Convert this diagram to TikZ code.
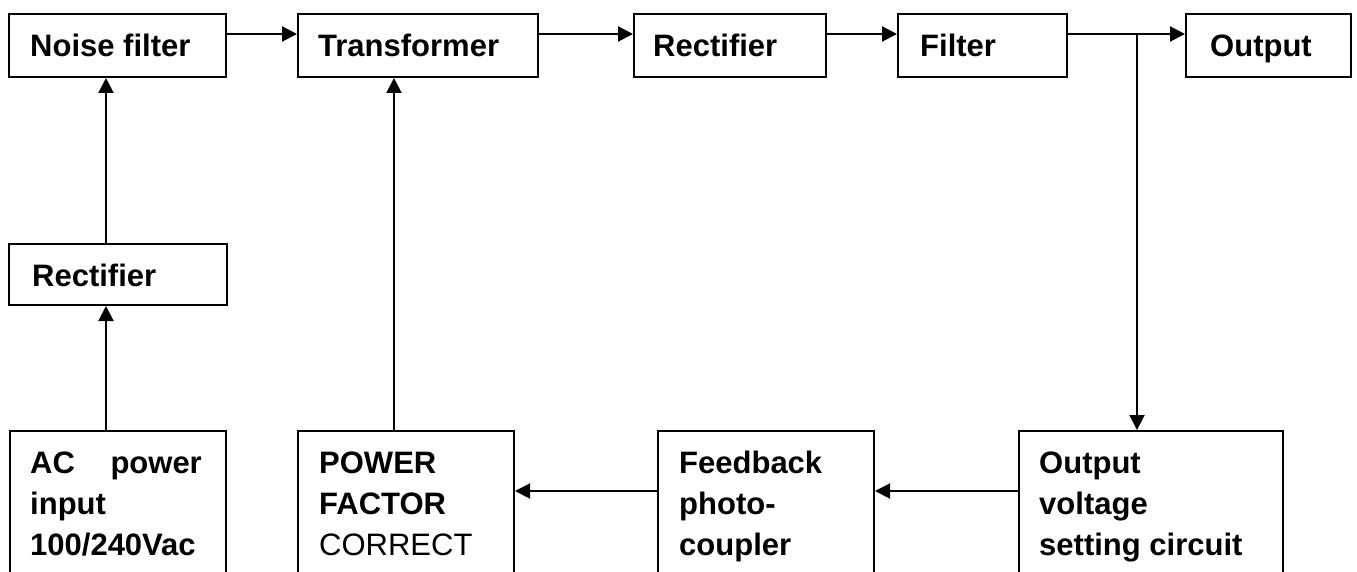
\documentclass[tikz,border=0pt]{standalone}
\usepackage{fontspec}
\setmainfont{Liberation Sans}
\usetikzlibrary{arrows.meta}
\begin{document}
\begin{tikzpicture}[x=1pt,y=-1pt,
  box/.style={draw, line width=2pt, anchor=north west, inner sep=0pt},
  txt/.style={anchor=base west, inner sep=0pt, font=\fontsize{31}{41}\selectfont\bfseries},
  txtr/.style={anchor=base west, inner sep=0pt, font=\fontsize{31}{41}\selectfont},
  conn/.style={line width=2pt, -{Triangle[length=15pt,width=15pt]}},
  plain/.style={line width=2pt}
]
\useasboundingbox (0,0) rectangle (1357,572);
\clip (0,0) rectangle (1357,572);

% top row
\node[box, minimum width=217pt, minimum height=63pt] (noise) at (8,13) {};
\node[box, minimum width=240pt, minimum height=63pt] (trans) at (297,13) {};
\node[box, minimum width=192pt, minimum height=63pt] (rect) at (633,13) {};
\node[box, minimum width=169pt, minimum height=63pt] (filt) at (897,13) {};
\node[box, minimum width=165pt, minimum height=63pt] (out) at (1185,13) {};
% left rectifier
\node[box, minimum width=218pt, minimum height=61pt] (rect2) at (8,243) {};
% bottom row (open at the bottom)
\node[box, minimum width=216pt, minimum height=200pt] (ac) at (9,430) {};
\node[box, minimum width=216pt, minimum height=200pt] (pfc) at (297,430) {};
\node[box, minimum width=216pt, minimum height=200pt] (fb) at (657,430) {};
\node[box, minimum width=264pt, minimum height=200pt] (ovs) at (1018,430) {};

% texts
\node[txt] (tnoise) at (30,57) {Noise filter};
\node[txt] (ttrans) at (318,57) {Transformer};
\node[txt] (trect) at (653,57) {Rectifier};
\node[txt] (tfilt) at (920,57) {Filter};
\node[txt] (tout) at (1210,57) {Output};
\node[txt] (trect2) at (32,286) {Rectifier};

\node[txt] (tac1) at (30,473) {AC};
\node[txt, anchor=base east] (tac2) at (202,473) {power};
\node[txt] (tac3) at (30,514) {input};
\node[txt] (tac4) at (30,555) {100/240Vac};

\node[txt] (tpf1) at (319,473) {POWER};
\node[txt] (tpf2) at (319,514) {FACTOR};
\node[txtr] (tpf3) at (319,555) {CORRECT};

\node[txt] (tfb1) at (679,473) {Feedback};
\node[txt] (tfb2) at (679,514) {photo-};
\node[txt] (tfb3) at (679,555) {coupler};

\node[txt] (tov1) at (1039,473) {Output};
\node[txt] (tov2) at (1039,514) {voltage};
\node[txt] (tov3) at (1039,555) {setting circuit};

% top connectors
\draw[conn] ([yshift=11.5pt]noise.east) -- ([yshift=11.5pt]trans.west);
\draw[conn] ([yshift=11.5pt]trans.east) -- ([yshift=11.5pt]rect.west);
\draw[conn] ([yshift=11.5pt]rect.east) -- ([yshift=11.5pt]filt.east -| filt.west);
\draw[conn] ([yshift=11.5pt]filt.east) -- ([yshift=11.5pt]out.west);
\coordinate (br) at (1137,33);
\draw[conn] (br) -- (br |- ovs.north);

% vertical connectors
\draw[conn] ([xshift=-12pt]rect2.north) -- ([xshift=-12pt]rect2.north |- noise.south);
\draw[conn] ([xshift=-12pt]ac.north) -- ([xshift=-12pt]ac.north |- rect2.south);
\draw[conn] ([xshift=-12pt]pfc.north) -- ([xshift=-12pt]pfc.north |- trans.south);

% bottom connectors
\coordinate (hy) at (0,491);
\draw[conn] (ovs.west |- hy) -- (fb.east |- hy);
\draw[conn] (fb.west |- hy) -- (pfc.east |- hy);
\end{tikzpicture}
\end{document}
